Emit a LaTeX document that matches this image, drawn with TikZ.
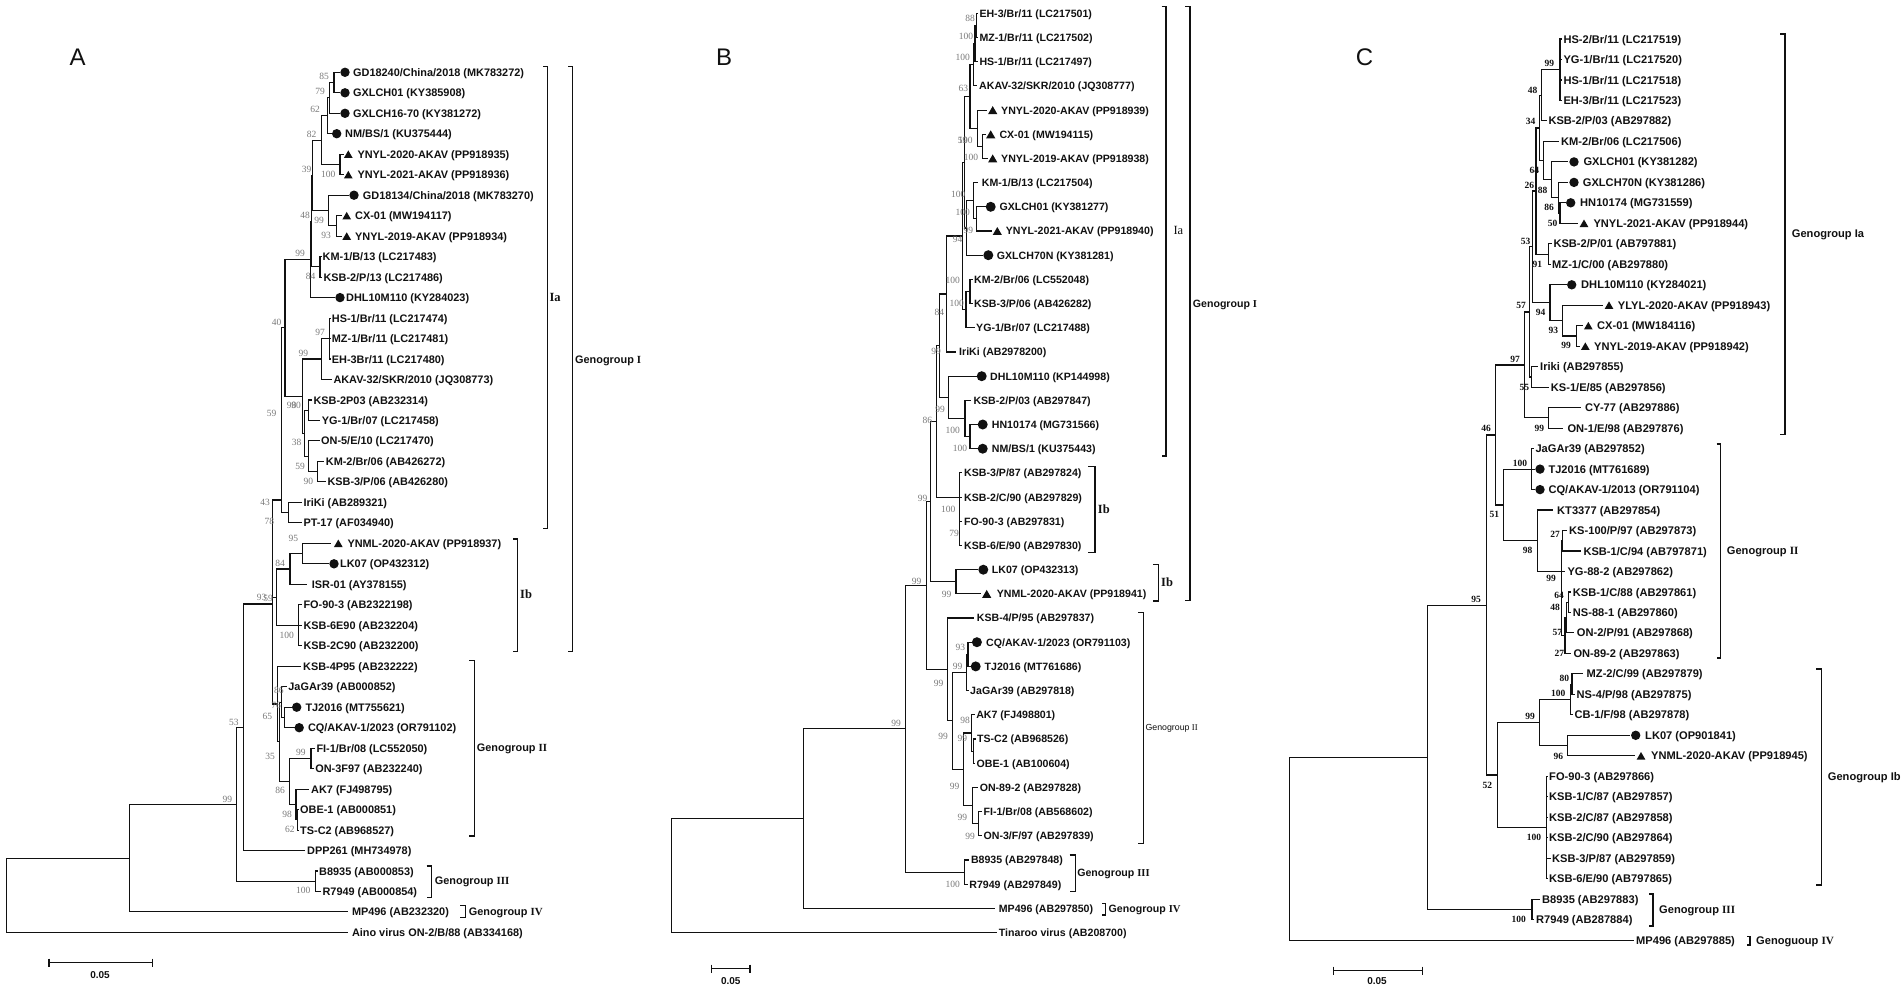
\documentclass[tikz,border=0pt]{standalone}
\usepackage{fontspec}
\usetikzlibrary{shapes.geometric}
\newfontfamily\labf{Liberation Sans}
\newfontfamily\serf{Liberation Serif}
\definecolor{bsgray}{HTML}{7A7A7A}
\definecolor{ink}{HTML}{111111}
\newcommand\tleaf[5]{\coordinate (#1) at (#2,#3);\node[leaflab] (#1t) at (#4,#3) {#5};}
\newcommand\tdot[3]{\node[dotmark] (#1m) at (#2,#3) {};}
\newcommand\ttri[3]{\node[trimark] (#1m) at (#2,#3) {};}
\newcommand\tedge[2]{\foreach \kid in {#2}{\draw[treeline] (#1) |- (\kid);}}
\newcommand\tbrack[4]{\draw[brkline] (#1,#3) -- (#2,#3) -- (#2,#4) -- (#1,#4);}
\tikzset{
 treeline/.style={draw=ink,line width=1.1pt,line cap=rect},
 brkline/.style={draw=ink,line width=1.1pt},
 leaflab/.style={anchor=base west,inner sep=0pt,yshift=-4pt,text=ink,font=\labf\bfseries\fontsize{10.9}{12}\selectfont},
 dotmark/.style={circle,fill=ink,inner sep=0pt,minimum size=9.4pt},
 trimark/.style={regular polygon,regular polygon sides=3,fill=ink,inner sep=0pt,minimum size=10pt,yshift=-1.2pt},
 bsA/.style={inner sep=0pt,text=bsgray,font=\serf\fontsize{9.5}{10}\selectfont},
 bsC/.style={inner sep=0pt,text=ink,font=\serf\bfseries\fontsize{9.5}{10}\selectfont},
 grplab/.style={anchor=base west,inner sep=0pt,yshift=-4pt,text=ink,font=\labf\bfseries\fontsize{10.9}{12}\selectfont},
 sublab/.style={anchor=base west,inner sep=0pt,yshift=-4.5pt,text=ink,font=\serf\bfseries\fontsize{12.5}{13}\selectfont},
 panlab/.style={inner sep=0pt,text=ink,font=\labf\fontsize{24}{24}\selectfont},
 scl/.style={inner sep=0pt,text=ink,font=\labf\bfseries\fontsize{10}{10}\selectfont},
}
\begin{document}
\begin{tikzpicture}[x=1pt,y=-1pt]
\fill[white] (0,0) rectangle (1902,993);
\useasboundingbox (0,0) rectangle (1902,993);

%================ PANEL A =================
\node[panlab] (pA) at (77.6,57) {A};
\tleaf{A1}{339}{72.3}{353}{GD18240/China/2018 (MK783272)}\tdot{A1}{345}{72.3}
\tleaf{A2}{339}{92.8}{353}{GXLCH01 (KY385908)}\tdot{A2}{345}{92.8}
\tleaf{A3}{339}{113.3}{353}{GXLCH16-70 (KY381272)}\tdot{A3}{345}{113.3}
\tleaf{A4}{331}{133.7}{345}{NM/BS/1 (KU375444)}\tdot{A4}{336.7}{133.7}
\tleaf{A5}{343}{154.2}{357.3}{YNYL-2020-AKAV (PP918935)}\ttri{A5}{348.3}{154.2}
\tleaf{A6}{343}{174.7}{357.3}{YNYL-2021-AKAV (PP918936)}\ttri{A6}{348.3}{174.7}
\tleaf{A7}{348}{195.2}{362.7}{GD18134/China/2018 (MK783270)}\tdot{A7}{354}{195.2}
\tleaf{A8}{341}{215.7}{355}{CX-01 (MW194117)}\ttri{A8}{346.7}{215.7}
\tleaf{A9}{341}{236.1}{355}{YNYL-2019-AKAV (PP918934)}\ttri{A9}{346.7}{236.1}
\tleaf{A10}{321}{256.6}{322.5}{KM-1/B/13 (LC217483)}
\tleaf{A11}{321.5}{277.1}{323.3}{KSB-2/P/13 (LC217486)}
\tleaf{A12}{334.5}{297.6}{346}{DHL10M110 (KY284023)}\tdot{A12}{340}{297.6}
\tleaf{A13}{330.5}{318.1}{331.7}{HS-1/Br/11 (LC217474)}
\tleaf{A14}{330.5}{338.5}{331.7}{MZ-1/Br/11 (LC217481)}
\tleaf{A15}{330.5}{359.0}{331.7}{EH-3Br/11 (LC217480)}
\tleaf{A16}{331}{379.5}{333.3}{AKAV-32/SKR/2010 (JQ308773)}
\tleaf{A17}{311}{400.0}{313.3}{KSB-2P03 (AB232314)}
\tleaf{A18}{319.5}{420.5}{321.7}{YG-1/Br/07 (LC217458)}
\tleaf{A19}{319}{440.9}{321}{ON-5/E/10 (LC217470)}
\tleaf{A20}{323.5}{461.4}{325.7}{KM-2/Br/06 (AB426272)}
\tleaf{A21}{325}{481.9}{327.3}{KSB-3/P/06 (AB426280)}
\tleaf{A22}{301}{502.4}{303.3}{IriKi (AB289321)}
\tleaf{A23}{301}{522.9}{303.3}{PT-17 (AF034940)}
\tleaf{A24}{330}{543.3}{347.3}{YNML-2020-AKAV (PP918937)}\ttri{A24}{338.3}{543.3}
\tleaf{A25}{328.5}{563.8}{340}{LK07 (OP432312)}\tdot{A25}{334}{563.8}
\tleaf{A26}{306.7}{584.3}{311.7}{ISR-01 (AY378155)}
\tleaf{A27}{301}{604.8}{303.3}{FO-90-3 (AB2322198)}
\tleaf{A28}{301}{625.3}{303.3}{KSB-6E90 (AB232204)}
\tleaf{A29}{301}{645.7}{303.3}{KSB-2C90 (AB232200)}
\tleaf{A30}{300.8}{666.2}{303}{KSB-4P95 (AB232222)}
\tleaf{A31}{286}{686.7}{288.2}{JaGAr39 (AB000852)}
\tleaf{A32}{291.5}{707.2}{305.3}{TJ2016 (MT755621)}\tdot{A32}{296.7}{707.2}
\tleaf{A33}{294}{727.7}{307.8}{CQ/AKAV-1/2023 (OR791102)}\tdot{A33}{299.2}{727.7}
\tleaf{A34}{314}{748.1}{316.3}{FI-1/Br/08 (LC552050)}
\tleaf{A35}{313}{768.6}{315.1}{ON-3F97 (AB232240)}
\tleaf{A36}{308.2}{789.1}{311}{AK7 (FJ498795)}
\tleaf{A37}{298}{809.6}{300}{OBE-1 (AB000851)}
\tleaf{A38}{298}{830.1}{300}{TS-C2 (AB968527)}
\tleaf{A39}{304}{850.5}{307}{DPP261 (MH734978)}
\tleaf{A40}{317}{871.0}{319}{B8935 (AB000853)}
\tleaf{A41}{320}{891.5}{322.4}{R7949 (AB000854)}
\tleaf{A42}{347}{911.5}{351.8}{MP496 (AB232320)}
\tleaf{A43}{347}{932.5}{351.8}{Aino virus ON-2/B/88 (AB334168)}

\coordinate (a12) at (334,82.5);
\coordinate (a123) at (329.3,97.9);
\coordinate (a1234) at (327.3,115.8);
\coordinate (a56) at (340,164.5);
\coordinate (a16) at (321.7,140.1);
\coordinate (a89) at (336.7,225.9);
\coordinate (a79) at (328.3,210.5);
\coordinate (aNa) at (312.7,175.3);
\coordinate (a1011) at (320,266.9);
\coordinate (aNb) at (311.3,221.1);
\coordinate (aNc) at (310.7,259.3);
\coordinate (a1315) at (329.3,338.5);
\coordinate (a1316) at (321.7,359);
\coordinate (a1718) at (308.3,410.2);
\coordinate (a2021) at (317.3,471.7);
\coordinate (a1921) at (308.3,456.3);
\coordinate (a1721) at (304.5,433.3);
\coordinate (aP1) at (302.7,396.2);
\coordinate (aP0) at (285,327.8);
\coordinate (a2223) at (288.3,512.6);
\coordinate (aIa) at (281.7,500);
\coordinate (a2425) at (302.7,553.6);
\coordinate (a2426) at (290,569);
\coordinate (a2729) at (298.3,625.3);
\coordinate (aIb) at (276.7,597.1);
\coordinate (a3233) at (284.9,717.4);
\coordinate (a3133) at (281.6,702.1);
\coordinate (a3435) at (311,758.4);
\coordinate (a3738) at (297.5,819.8);
\coordinate (a3638) at (296,804.5);
\coordinate (a3438) at (289.8,781.4);
\coordinate (a3138) at (279.2,741.8);
\coordinate (aGII) at (277.6,704);
\coordinate (a93) at (272.5,604);
\coordinate (aDPP) at (243.5,727.3);
\coordinate (aGIII) at (315.5,881.3);
\coordinate (a53) at (236.7,804.3);
\coordinate (a99) at (129.5,858.1);
\coordinate (aR) at (6.5,895.3);

\tedge{a12}{A1,A2}
\tedge{a123}{a12,A3}
\tedge{a1234}{a123,A4}
\tedge{a56}{A5,A6}
\tedge{a16}{a1234,a56}
\tedge{a89}{A8,A9}
\tedge{a79}{A7,a89}
\tedge{aNa}{a16,a79}
\tedge{a1011}{A10,A11}
\tedge{aNb}{aNa,a1011}
\tedge{aNc}{aNb,A12}
\tedge{a1315}{A13,A14,A15}
\tedge{a1316}{a1315,A16}
\tedge{a1718}{A17,A18}
\tedge{a2021}{A20,A21}
\tedge{a1921}{A19,a2021}
\tedge{a1721}{a1718,a1921}
\tedge{aP1}{a1316,a1721}
\tedge{aP0}{aNc,aP1}
\tedge{a2223}{A22,A23}
\tedge{aIa}{aP0,a2223}
\tedge{a2425}{A24,A25}
\tedge{a2426}{a2425,A26}
\tedge{a2729}{A27,A28,A29}
\tedge{aIb}{a2426,a2729}
\tedge{a3233}{A32,A33}
\tedge{a3133}{A31,a3233}
\tedge{a3435}{A34,A35}
\tedge{a3738}{A37,A38}
\tedge{a3638}{A36,a3738}
\tedge{a3438}{a3435,a3638}
\tedge{a3138}{a3133,a3438}
\tedge{aGII}{A30,a3138}
\tedge{a93}{aIa,aIb,aGII}
\tedge{aDPP}{a93,A39}
\tedge{aGIII}{A40,A41}
\tedge{a53}{aDPP,aGIII}
\tedge{a99}{a53,A42}
\tedge{aR}{a99,A43}

\foreach \bx/\by/\bt [count=\bi] in {324/76/85,320/91.7/79,315/109.3/62,311.7/134/82,306.7/169.3/39,328.3/174.3/100,305/215/48,319/220/99,326/235.7/93,300/253.3/99,310.7/276.7/84,276.7/322.7/40,320/332.3/97,303.3/353.3/99,291.7/405/98,296/405/90,271.7/413.3/59,296.7/442.7/38,300/466/59,308.3/481.3/90,265/502/43,269.3/521.7/78,293.3/538.3/95,280/563.3/84,261.7/597/93,268/598/59,286.7/635/100,278.8/690/86,276/705.7/76,267.3/716.7/65,233.9/722.7/53,300.8/752.3/99,270.2/756.7/35,280/790.7/86,227.3/799/99,287/814/98,289.8/829.3/62,303.3/890.7/100}
  {\node[bsA] (bsa\bi) at (\bx,\by) {\bt};}

\tbrack{543.3}{547.3}{66.7}{528.3}
\node[sublab] (gAIa) at (549.3,297) {Ia};
\tbrack{568.3}{572.3}{66.7}{651.7}
\node[grplab] (gAI) at (575,359) {Genogroup {\serf I}};
\tbrack{513.3}{517.3}{539}{651.7}
\node[sublab] (gAIb) at (520,594.3) {Ib};
\tbrack{469.4}{474.3}{660.7}{836}
\node[grplab] (gAII) at (476.7,747.7) {Genogroup {\serf II}};
\tbrack{426.5}{431.8}{866}{897.3}
\node[grplab] (gAIII) at (434.7,880.7) {Genogroup {\serf III}};
\tbrack{460.4}{465.3}{905.7}{917.3}
\node[grplab] (gAIV) at (468.6,911.7) {Genogroup {\serf IV}};

\coordinate (sA1) at (49,962.5); \coordinate (sA2) at (152.2,962.5);
\draw[brkline] (sA1) -- (sA2);
\draw[brkline] (sA1) ++(0,-4) -- ++(0,8);
\draw[brkline] (sA2) ++(0,-4) -- ++(0,8);
\node[scl] (sAt) at (100,975) {0.05};

%================ PANEL B =================
\begin{scope}[leaflab/.style={anchor=base west,inner sep=0pt,yshift=-3.9pt,text=ink,font=\labf\bfseries\fontsize{10.6}{12}\selectfont},
 dotmark/.style={circle,fill=ink,inner sep=0pt,minimum size=10pt},
 trimark/.style={regular polygon,regular polygon sides=3,fill=ink,inner sep=0pt,minimum size=10.6pt,yshift=-1.3pt}]
\node[panlab] (pB) at (724,57) {B};
\tleaf{B1}{977.5}{13.3}{979.3}{EH-3/Br/11 (LC217501)}
\tleaf{B2}{977.5}{37.5}{979.3}{MZ-1/Br/11 (LC217502)}
\tleaf{B3}{977.5}{61.7}{979.3}{HS-1/Br/11 (LC217497)}
\tleaf{B4}{976.5}{85.9}{979}{AKAV-32/SKR/2010 (JQ308777)}
\tleaf{B5}{986.5}{110.1}{1001}{YNYL-2020-AKAV (PP918939)}\ttri{B5}{992.7}{110.1}
\tleaf{B6}{985}{134.3}{999.3}{CX-01 (MW194115)}\ttri{B6}{990.7}{134.3}
\tleaf{B7}{987}{158.4}{1001}{YNYL-2019-AKAV (PP918938)}\ttri{B7}{992.7}{158.4}
\tleaf{B8}{977.3}{182.6}{981.7}{KM-1/B/13 (LC217504)}
\tleaf{B9}{985}{206.8}{999.3}{GXLCH01 (KY381277)}\tdot{B9}{990.7}{206.8}
\tleaf{B10}{991.5}{231.0}{1005.7}{YNYL-2021-AKAV (PP918940)}\ttri{B10}{997.3}{231.0}
\tleaf{B11}{982.5}{255.2}{996.7}{GXLCH70N (KY381281)}\tdot{B11}{988.3}{255.2}
\tleaf{B12}{972}{279.4}{974}{KM-2/Br/06 (LC552048)}
\tleaf{B13}{972}{303.6}{974}{KSB-3/P/06 (AB426282)}
\tleaf{B14}{974}{327.8}{976}{YG-1/Br/07 (LC217488)}
\tleaf{B15}{955.5}{352.0}{959}{IriKi (AB2978200)}
\tleaf{B16}{976}{376.2}{990}{DHL10M110 (KP144998)}\tdot{B16}{981.7}{376.2}
\tleaf{B17}{970.5}{400.3}{973.3}{KSB-2/P/03 (AB297847)}
\tleaf{B18}{977}{424.5}{991.7}{HN10174 (MG731566)}\tdot{B18}{982.7}{424.5}
\tleaf{B19}{977}{448.7}{991.7}{NM/BS/1 (KU375443)}\tdot{B19}{982.7}{448.7}
\tleaf{B20}{961.5}{472.9}{964}{KSB-3/P/87 (AB297824)}
\tleaf{B21}{961.5}{497.1}{964}{KSB-2/C/90 (AB297829)}
\tleaf{B22}{961.5}{521.3}{964}{FO-90-3 (AB297831)}
\tleaf{B23}{961.5}{545.5}{964}{KSB-6/E/90 (AB297830)}
\tleaf{B24}{977.5}{569.7}{991.7}{LK07 (OP432313)}\tdot{B24}{983.3}{569.7}
\tleaf{B25}{980.5}{593.9}{996.7}{YNML-2020-AKAV (PP918941)}\ttri{B25}{986.7}{593.9}
\tleaf{B26}{973.3}{618.0}{976.7}{KSB-4/P/95 (AB297837)}
\tleaf{B27}{971}{642.2}{986}{CQ/AKAV-1/2023 (OR791103)}\tdot{B27}{976.9}{642.2}
\tleaf{B28}{970}{666.4}{984.5}{TJ2016 (MT761686)}\tdot{B28}{975.7}{666.4}
\tleaf{B29}{968}{690.6}{970}{JaGAr39 (AB297818)}
\tleaf{B30}{974}{714.8}{976.1}{AK7 (FJ498801)}
\tleaf{B31}{975}{739.0}{976.9}{TS-C2 (AB968526)}
\tleaf{B32}{974.5}{763.2}{976.5}{OBE-1 (AB100604)}
\tleaf{B33}{977}{787.4}{979.6}{ON-89-2 (AB297828)}
\tleaf{B34}{981.5}{811.6}{983.4}{FI-1/Br/08 (AB568602)}
\tleaf{B35}{981.5}{835.8}{983.4}{ON-3/F/97 (AB297839)}
\tleaf{B36}{968.5}{860.0}{970.8}{B8935 (AB297848)}
\tleaf{B37}{967}{884.1}{969.2}{R7949 (AB297849)}
\tleaf{B38}{994.9}{908.3}{998.7}{MP496 (AB297850)}
\tleaf{B39}{996}{932.5}{998.7}{Tinaroo virus (AB208700)}

\coordinate (b1) at (976.7,25.4);
\coordinate (b2) at (975,43.6);
\coordinate (b3) at (973.3,64.7);
\coordinate (bCX) at (982.7,146.4);
\coordinate (bY) at (977.3,128.2);
\coordinate (b4) at (970,96.5);
\coordinate (b5) at (976.7,218.9);
\coordinate (b6) at (973.3,200.8);
\coordinate (b7) at (966.5,228);
\coordinate (b8) at (964.5,162.3);
\coordinate (b1213) at (970,291.5);
\coordinate (b1214) at (966,309.7);
\coordinate (b962) at (962.7,236);
\coordinate (b84) at (946.7,294);
\coordinate (b1819) at (970,436.6);
\coordinate (b1719) at (965,418.5);
\coordinate (b948) at (948.3,397.4);
\coordinate (b99a) at (939.3,345.7);
\coordinate (bIb1) at (959.3,497.1);
\coordinate (b86) at (936.7,421.4);
\coordinate (bIb2) at (956,581.8);
\coordinate (bGI) at (930.7,501.6);
\coordinate (bCQTJ) at (968,654.3);
\coordinate (bJa) at (966.2,672.5);
\coordinate (bTO) at (973.5,751.1);
\coordinate (bAK) at (971.9,733);
\coordinate (bFO) at (978.8,823.7);
\coordinate (bON) at (972.7,805.6);
\coordinate (b963) at (963.5,769.3);
\coordinate (bGIIr) at (952.8,720.9);
\coordinate (bGII) at (947.5,669.5);
\coordinate (b926) at (926.5,585.6);
\coordinate (bGIII) at (964.2,872.5);
\coordinate (b905) at (905.5,728.8);
\coordinate (b804) at (803.5,818.6);
\coordinate (bR) at (671.5,875.6);

\tedge{b1}{B1,B2}
\tedge{b2}{b1,B3}
\tedge{b3}{b2,B4}
\tedge{bCX}{B6,B7}
\tedge{bY}{B5,bCX}
\tedge{b4}{b3,bY}
\tedge{b5}{B9,B10}
\tedge{b6}{B8,b5}
\tedge{b7}{b6,B11}
\tedge{b8}{b4,b7}
\tedge{b1213}{B12,B13}
\tedge{b1214}{b1213,B14}
\tedge{b962}{b8,b1214}
\tedge{b84}{b962,B15}
\tedge{b1819}{B18,B19}
\tedge{b1719}{B17,b1819}
\tedge{b948}{B16,b1719}
\tedge{b99a}{b84,b948}
\tedge{bIb1}{B20,B21,B22,B23}
\tedge{b86}{b99a,bIb1}
\tedge{bIb2}{B24,B25}
\tedge{bGI}{b86,bIb2}
\tedge{bCQTJ}{B27,B28}
\tedge{bJa}{bCQTJ,B29}
\tedge{bTO}{B31,B32}
\tedge{bAK}{B30,bTO}
\tedge{bFO}{B34,B35}
\tedge{bON}{B33,bFO}
\tedge{b963}{bAK,bON}
\tedge{bGIIr}{bJa,b963}
\tedge{bGII}{B26,bGIIr}
\tedge{b926}{bGI,bGII}
\tedge{bGIII}{B36,B37}
\tedge{b905}{b926,bGIII}
\tedge{b804}{b905,B38}
\tedge{bR}{b804,B39}

\foreach \bx/\by/\bt [count=\bi] in {970/18.3/88,966/36/100,962.7/57.3/100,963.3/88.3/63,962.5/140.7/59,965.5/140.7/100,971/157.7/100,958.3/194.3/100,962.7/212.7/100,968.3/230/99,957.7/239.3/94,952.7/280/100,956.7/303.3/100,939.3/312.7/84,936/351.7/99,940/409/99,927.3/420/86,952.7/430/100,960/448.3/100,922.7/498.3/99,948.3/509/100,954/533.3/79,916.7/581/99,946.7/594/99,896.1/723.3/99,938.6/683.3/99,960.4/647/93,957.7/666/99,965/720/98,943.2/736/99,962.3/738.3/99,954.7/786.7/99,962.3/817.7/99,970/836/99,952.8/884.3/100}
  {\node[bsA] (bsb\bi) at (\bx,\by) {\bt};}

\tbrack{1161.7}{1166}{6.7}{456}
\node[sublab,font=\serf\fontsize{12.5}{13}\selectfont] (gBIa) at (1173.3,230) {Ia};
\tbrack{1185}{1190}{6.7}{600.7}
\node[grplab,font=\labf\bfseries\fontsize{10.6}{12}\selectfont] (gBI) at (1192.7,303.3) {Genogroup {\serf I}};
\tbrack{1088.3}{1095}{466.7}{552.3}
\node[sublab] (gBIb1) at (1097.7,509) {Ib};
\tbrack{1153.3}{1158.3}{564.3}{601}
\node[sublab] (gBIb2) at (1161,581.7) {Ib};
\tbrack{1138.4}{1143.3}{612.7}{843.3}
\node[grplab,yshift=0.8pt,font=\labf\fontsize{8.8}{10}\selectfont] (gBII) at (1145.3,727.7) {Genogroup {\serf II}};
\tbrack{1069.5}{1075.2}{855}{891.7}
\node[grplab,font=\labf\bfseries\fontsize{10.6}{12}\selectfont] (gBIII) at (1077.1,872.3) {Genogroup {\serf III}};
\tbrack{1102}{1105.8}{903.3}{915}
\node[grplab,font=\labf\bfseries\fontsize{10.6}{12}\selectfont] (gBIV) at (1108.5,908.3) {Genogroup {\serf IV}};

\coordinate (sB1) at (711.7,968.5); \coordinate (sB2) at (750,968.5);
\draw[brkline] (sB1) -- (sB2);
\draw[brkline] (sB1) ++(0,-4) -- ++(0,8);
\draw[brkline] (sB2) ++(0,-4) -- ++(0,8);
\node[scl] (sBt) at (730.8,981) {0.05};
\end{scope}

%================ PANEL C =================
\begin{scope}[leaflab/.style={anchor=base west,inner sep=0pt,yshift=-4pt,text=ink,font=\labf\bfseries\fontsize{11.1}{12}\selectfont}]
\node[panlab] (pC) at (1364.6,57) {C};
\tleaf{C1}{1561.5}{39}{1563.3}{HS-2/Br/11 (LC217519)}
\tleaf{C2}{1561.5}{59.5}{1563.3}{YG-1/Br/11 (LC217520)}
\tleaf{C3}{1561.5}{80}{1563.3}{HS-1/Br/11 (LC217518)}
\tleaf{C4}{1561.5}{100.4}{1563.3}{EH-3/Br/11 (LC217523)}
\tleaf{C5}{1546}{120.9}{1548.3}{KSB-2/P/03 (AB297882)}
\tleaf{C6}{1558.3}{141.4}{1561}{KM-2/Br/06 (LC217506)}
\tleaf{C7}{1567.3}{161.9}{1583.3}{GXLCH01 (KY381282)}\tdot{C7}{1574}{161.9}
\tleaf{C8}{1567.3}{182.4}{1582.7}{GXLCH70N (KY381286)}\tdot{C8}{1574}{182.4}
\tleaf{C9}{1565}{202.8}{1580}{HN10174 (MG731559)}\tdot{C9}{1570.7}{202.8}
\tleaf{C10}{1577.5}{223.3}{1593.3}{YNYL-2021-AKAV (PP918944)}\ttri{C10}{1584}{223.3}
\tleaf{C11}{1551}{243.8}{1553.3}{KSB-2/P/01 (AB797881)}
\tleaf{C12}{1550}{264.3}{1552}{MZ-1/C/00 (AB297880)}
\tleaf{C13}{1566}{284.8}{1581}{DHL10M110 (KY284021)}\tdot{C13}{1571.7}{284.8}
\tleaf{C14}{1602.5}{305.2}{1617.7}{YLYL-2020-AKAV (PP918943)}\ttri{C14}{1609}{305.2}
\tleaf{C15}{1582.5}{325.7}{1597}{CX-01 (MW184116)}\ttri{C15}{1588.3}{325.7}
\tleaf{C16}{1579.5}{346.2}{1594}{YNYL-2019-AKAV (PP918942)}\ttri{C16}{1585.3}{346.2}
\tleaf{C17}{1537.5}{366.7}{1540}{Iriki (AB297855)}
\tleaf{C18}{1548.3}{387.2}{1550.7}{KS-1/E/85 (AB297856)}
\tleaf{C19}{1580}{407.6}{1585}{CY-77 (AB297886)}
\tleaf{C20}{1562.7}{428.1}{1567.3}{ON-1/E/98 (AB297876)}
\tleaf{C21}{1533}{448.6}{1535.3}{JaGAr39 (AB297852)}
\tleaf{C22}{1534.5}{469.1}{1548.3}{TJ2016 (MT761689)}\tdot{C22}{1540}{469.1}
\tleaf{C23}{1534.5}{489.6}{1548.3}{CQ/AKAV-1/2013 (OR791104)}\tdot{C23}{1540}{489.6}
\tleaf{C24}{1552.7}{510}{1557}{KT3377 (AB297854)}
\tleaf{C25}{1566}{530.5}{1569}{KS-100/P/97 (AB297873)}
\tleaf{C26}{1580}{551}{1583.3}{KSB-1/C/94 (AB797871)}
\tleaf{C27}{1564.5}{571.5}{1567.3}{YG-88-2 (AB297862)}
\tleaf{C28}{1570}{592}{1572.7}{KSB-1/C/88 (AB297861)}
\tleaf{C29}{1570}{612.4}{1572.7}{NS-88-1 (AB297860)}
\tleaf{C30}{1573.5}{632.9}{1576.7}{ON-2/P/91 (AB297868)}
\tleaf{C31}{1570.5}{653.4}{1573.3}{ON-89-2 (AB297863)}
\tleaf{C32}{1582.5}{673.9}{1586.5}{MZ-2/C/99 (AB297879)}
\tleaf{C33}{1574}{694.4}{1576.5}{NS-4/P/98 (AB297875)}
\tleaf{C34}{1572}{714.8}{1574.4}{CB-1/F/98 (AB297878)}
\tleaf{C35}{1629}{735.3}{1645}{LK07 (OP901841)}\tdot{C35}{1635.7}{735.3}
\tleaf{C36}{1634}{755.8}{1651}{YNML-2020-AKAV (PP918945)}\ttri{C36}{1641}{755.8}
\tleaf{C37}{1547.5}{776.3}{1549}{FO-90-3 (AB297866)}
\tleaf{C38}{1547.5}{796.8}{1549}{KSB-1/C/87 (AB297857)}
\tleaf{C39}{1547.5}{817.2}{1549}{KSB-2/C/87 (AB297858)}
\tleaf{C40}{1547.5}{837.7}{1549}{KSB-2/C/90 (AB297864)}
\tleaf{C41}{1550}{858.2}{1552}{KSB-3/P/87 (AB297859)}
\tleaf{C42}{1547.5}{878.7}{1549}{KSB-6/E/90 (AB797865)}
\tleaf{C43}{1539.4}{899.2}{1542}{B8935 (AB297883)}
\tleaf{C44}{1533.5}{919.6}{1536}{R7949 (AB287884)}
\tleaf{C45}{1633}{940.5}{1636}{MP496 (AB297885)}

\coordinate (c14) at (1560,69.7);
\coordinate (c48) at (1541.7,95.3);
\coordinate (c910) at (1560,213.1);
\coordinate (c810) at (1558.3,197.8);
\coordinate (c710) at (1551.7,179.9);
\coordinate (c610) at (1543.3,160.7);
\coordinate (c34) at (1539.3,128);
\coordinate (c1112) at (1548.3,254.1);
\coordinate (c26) at (1536,191);
\coordinate (c1516) at (1576.7,336);
\coordinate (c1416) at (1562.7,320.6);
\coordinate (c94) at (1550,302.7);
\coordinate (c53) at (1532.7,246.9);
\coordinate (c1718) at (1531.7,377);
\coordinate (c57) at (1529.3,312);
\coordinate (c1920) at (1548.3,417.9);
\coordinate (cIa) at (1524.3,365);
\coordinate (cJa) at (1531.7,469.1);
\coordinate (c2526) at (1562.7,540.8);
\coordinate (c2829) at (1568.3,602.2);
\coordinate (c2830) at (1566.5,617.6);
\coordinate (c2831) at (1565,635.5);
\coordinate (c2531) at (1561.7,571.5);
\coordinate (c98) at (1537.3,540.8);
\coordinate (cGII) at (1503.5,505);
\coordinate (c46) at (1495.5,435);
\coordinate (c3233) at (1572,684.2);
\coordinate (c3234) at (1570.4,699.5);
\coordinate (c3536) at (1567.6,745.6);
\coordinate (c99) at (1539.4,722.6);
\coordinate (cFO) at (1546.2,827.5);
\coordinate (c52) at (1497.5,775);
\coordinate (c95) at (1486.5,605.5);
\coordinate (cGIII) at (1532,909.5);
\coordinate (c1427) at (1427.5,757.5);
\coordinate (cR) at (1289.5,848.7);

\tedge{c14}{C1,C2,C3,C4}
\tedge{c48}{c14,C5}
\tedge{c910}{C9,C10}
\tedge{c810}{C8,c910}
\tedge{c710}{C7,c810}
\tedge{c610}{C6,c710}
\tedge{c34}{c48,c610}
\tedge{c1112}{C11,C12}
\tedge{c26}{c34,c1112}
\tedge{c1516}{C15,C16}
\tedge{c1416}{C14,c1516}
\tedge{c94}{C13,c1416}
\tedge{c53}{c26,c94}
\tedge{c1718}{C17,C18}
\tedge{c57}{c53,c1718}
\tedge{c1920}{C19,C20}
\tedge{cIa}{c57,c1920}
\tedge{cJa}{C21,C22,C23}
\tedge{c2526}{C25,C26}
\tedge{c2829}{C28,C29}
\tedge{c2830}{c2829,C30}
\tedge{c2831}{c2830,C31}
\tedge{c2531}{c2526,C27,c2831}
\tedge{c98}{C24,c2531}
\tedge{cGII}{cJa,c98}
\tedge{c46}{cIa,cGII}
\tedge{c3233}{C32,C33}
\tedge{c3234}{c3233,C34}
\tedge{c3536}{C35,C36}
\tedge{c99}{c3234,c3536}
\tedge{cFO}{C37,C38,C39,C40,C41,C42}
\tedge{c52}{c99,cFO}
\tedge{c95}{c46,c52}
\tedge{cGIII}{C43,C44}
\tedge{c1427}{c95,cGIII}
\tedge{cR}{c1427,C45}

\foreach \bx/\by/\bt [count=\bi] in {1549.3/63.3/99,1532.7/90/48,1530.7/121.7/34,1534.3/170.7/64,1529.3/185.7/26,1542.7/190/88,1549/207.7/86,1552.7/223/50,1525.7/241/53,1537.3/264/91,1521/305.7/57,1540.7/312.3/94,1553.3/330.7/93,1566/345.7/99,1515/359/97,1524.3/387/55,1539.3/428.3/99,1486/428.3/46,1520/463.3/100,1494.3/514.3/51,1527.7/550/98,1555/534/27,1551/578.3/99,1559/595.7/64,1555/607.3/48,1557.3/632.7/57,1559.3/653.3/27,1564.4/678.3/80,1558.3/693.3/100,1530/716/99,1558.3/756/96,1476/599/95,1487.3/785.7/52,1534.1/837.3/100,1518.8/919.3/100}
  {\node[bsC] (bsc\bi) at (\bx,\by) {\bt};}

\tbrack{1780}{1785}{34}{434.3}
\node[grplab,font=\labf\bfseries\fontsize{11.1}{12}\selectfont] (gCIa) at (1791.7,233.3) {Genogroup Ia};
\tbrack{1716.7}{1720.7}{444}{658}
\node[grplab,font=\labf\bfseries\fontsize{11.1}{12}\selectfont] (gCII) at (1726.7,550.7) {Genogroup {\serf II}};
\tbrack{1816}{1821.6}{669}{885}
\node[grplab,font=\labf\bfseries\fontsize{11.1}{12}\selectfont] (gCIb) at (1827.7,776) {Genogroup Ib};
\tbrack{1649}{1653}{894}{926}
\node[grplab,font=\labf\bfseries\fontsize{11.1}{12}\selectfont] (gCIII) at (1659,909) {Genogroup {\serf III}};
\tbrack{1747}{1750}{936.7}{945}
\node[grplab,font=\labf\bfseries\fontsize{11.1}{12}\selectfont] (gCIV) at (1756,940) {Genoguoup {\serf IV}};

\coordinate (sC1) at (1333.3,970.5); \coordinate (sC2) at (1422.4,970.5);
\draw[brkline] (sC1) -- (sC2);
\draw[brkline] (sC1) ++(0,-4) -- ++(0,8);
\draw[brkline] (sC2) ++(0,-4) -- ++(0,8);
\node[scl] (sCt) at (1377,981.5) {0.05};
\end{scope}
\end{tikzpicture}
\end{document}
